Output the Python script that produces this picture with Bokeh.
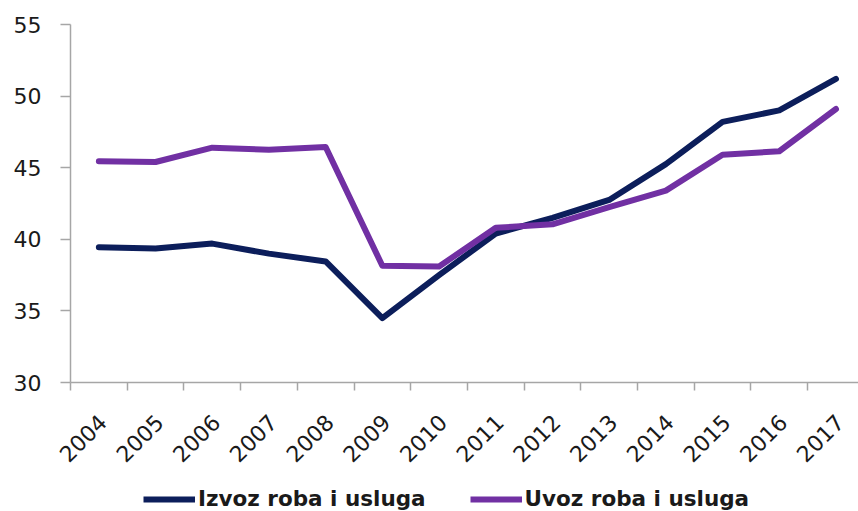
import math
from bokeh.plotting import figure
from bokeh.models import Range1d, FixedTicker, Legend, LegendItem
from bokeh.layouts import column
from bokeh.core.properties import value
from bokeh.embed import file_html
from bokeh.resources import INLINE

years = [2004, 2005, 2006, 2007, 2008, 2009, 2010, 2011, 2012, 2013, 2014, 2015, 2016, 2017]
year_labels = [str(y) for y in years]
izvoz = [39.45, 39.35, 39.7, 39.0, 38.45, 34.5, 37.5, 40.4, 41.5, 42.75, 45.25, 48.2, 49.0, 51.2]
uvoz = [45.45, 45.4, 46.4, 46.25, 46.45, 38.15, 38.1, 40.8, 41.05, 42.25, 43.4, 45.9, 46.15, 49.1]
y_ticks = [30, 35, 40, 45, 50, 55]
series_names = ["Izvoz roba i usluga", "Uvoz roba i usluga"]

NAVY = "#0c1e5b"
PURPLE = "#7130a3"
AXIS = "#a6a6a6"
TXT = "#1a1a1a"

PX_PER_YEAR = 56.7
LEFT = 70
W = 858
x0 = years[0] - 0.5

# ---- main chart ----
p = figure(width=W, height=395, frame_width=W - LEFT, frame_height=358,
           output_backend="svg", toolbar_location=None,
           x_range=Range1d(x0, x0 + (W - LEFT) / PX_PER_YEAR), y_range=Range1d(30, 55),
           min_border_left=LEFT, min_border_top=24, min_border_right=0, min_border_bottom=13)
p.outline_line_color = None
p.grid.visible = False
p.border_fill_color = "white"

p.line(years, izvoz, line_color=NAVY, line_width=6, line_join="round", line_cap="round")
p.line(years, uvoz, line_color=PURPLE, line_width=6, line_join="round", line_cap="round")

xa = p.xaxis[0]
xa.ticker = FixedTicker(ticks=years, minor_ticks=[y - 0.5 for y in years] + [years[-1] + 0.5])
xa.major_tick_line_color = None
xa.major_tick_in = 0
xa.major_tick_out = 0
xa.minor_tick_line_color = AXIS
xa.minor_tick_line_width = 1.5
xa.minor_tick_in = 0
xa.minor_tick_out = 8
xa.axis_line_color = AXIS
xa.axis_line_width = 1.5
xa.major_label_overrides = {y: "" for y in years}
xa.major_label_text_font_size = "1px"
xa.major_label_standoff = 0

ya = p.yaxis[0]
ya.ticker = FixedTicker(ticks=y_ticks)
ya.major_tick_line_color = AXIS
ya.major_tick_line_width = 1.5
ya.major_tick_in = 0
ya.major_tick_out = 10
ya.minor_tick_line_color = None
ya.axis_line_color = AXIS
ya.axis_line_width = 1.5
ya.major_label_text_font = "DejaVu Sans"
ya.major_label_text_font_size = "22px"
ya.major_label_text_color = TXT
ya.major_label_standoff = 19

# ---- category labels + legend strip (pixel y units), same x scale ----
q = figure(width=W, height=116, frame_width=W, frame_height=116,
           output_backend="svg", toolbar_location=None,
           x_range=Range1d(x0 - LEFT / PX_PER_YEAR, x0 + (W - LEFT) / PX_PER_YEAR),
           y_range=Range1d(0, 116),
           x_axis_type=None, y_axis_type=None,
           min_border_left=0, min_border_top=0, min_border_right=0, min_border_bottom=0)
q.outline_line_color = None
q.grid.visible = False
q.border_fill_color = "white"

# keep each figure's own frame (no cross-figure frame alignment)
for fig in (p, q):
    try:
        fig.frame_align = False
    except Exception:
        pass

q.text(x=years, y=[93] * len(years), text=year_labels, angle=math.pi / 4,
       x_offset=4, text_align="right", text_baseline="middle",
       text_font=value("DejaVu Sans"), text_font_size="22px", text_color=TXT)

# hidden copies of the series, used only as legend swatches
d1 = q.line(years, izvoz, line_color=NAVY, line_width=6, visible=False)
d2 = q.line(years, uvoz, line_color=PURPLE, line_width=6, visible=False)

legend = Legend(items=[LegendItem(label=series_names[0], renderers=[d1]),
                       LegendItem(label=series_names[1], renderers=[d2])],
                orientation="horizontal", location=(143, 0),
                label_text_font="DejaVu Sans", label_text_font_style="bold",
                label_text_font_size="21.5px", label_text_color=TXT,
                glyph_width=52, glyph_height=20, label_height=20,
                label_standoff=3, spacing=44,
                inactive_fill_alpha=0,
                padding=0, margin=0, border_line_color=None, background_fill_alpha=0)
q.add_layout(legend, "center")

layout = column(p, q, spacing=0)
open("out.html", "w").write(file_html(layout, INLINE))
